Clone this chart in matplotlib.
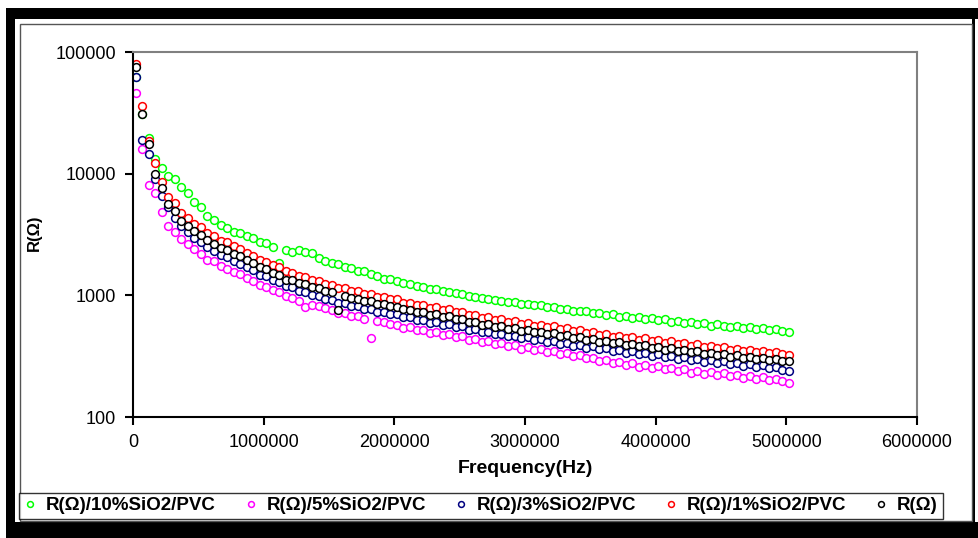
import numpy as np
import matplotlib
matplotlib.use('Agg')
import matplotlib.pyplot as plt
from matplotlib import ticker
from matplotlib.patches import Rectangle

plt.rcParams['font.family'] = ['Liberation Sans', 'DejaVu Sans']

# frequency sweep (kHz), 50 kHz step
freq_khz = list(range(20, 5021, 50))

r_10pct = [62000, 31000, 19500, 13200, 11200, 9600, 9100, 7700, 6900, 5900,
           5300, 4450, 4150, 3750, 3550, 3300, 3280, 3050, 2980, 2760,
           2680, 2480, 1850, 2380, 2270, 2360, 2280, 2230, 2020, 1920,
           1830, 1800, 1700, 1670, 1580, 1570, 1490, 1430, 1370, 1350,
           1310, 1260, 1240, 1190, 1180, 1120, 1125, 1080, 1075, 1040,
           1035, 995, 978, 950, 940, 915, 905, 880, 885, 855,
           850, 825, 828, 800, 795, 770, 778, 750, 742, 738,
           712, 720, 690, 700, 668, 682, 655, 662, 640, 650,
           622, 635, 605, 615, 590, 602, 578, 588, 565, 578,
           560, 552, 558, 540, 548, 530, 535, 520, 525, 505, 496]

r_5pct = [46000, 16000, 8000, 7000, 4800, 3700, 3300, 2900, 2650, 2400,
          2200, 1950, 1900, 1750, 1650, 1550, 1500, 1400, 1320, 1220,
          1180, 1100, 1060, 980, 950, 900, 800, 840, 810, 780,
          760, 720, 710, 680, 670, 640, 450, 610, 600, 580,
          575, 540, 546, 515, 521, 493, 500, 473, 480, 455,
          462, 432, 438, 413, 419, 395, 404, 381, 388, 365,
          374, 353, 361, 340, 348, 328, 336, 317, 324, 305,
          306, 288, 294, 277, 284, 268, 276, 260, 268, 253,
          261, 246, 253, 239, 246, 232, 240, 226, 233, 220,
          229, 216, 223, 211, 218, 206, 213, 201, 207, 196, 190]

r_3pct = [62000, 19000, 14500, 9000, 6500, 5300, 4300, 3700, 3300, 2950,
          2750, 2500, 2300, 2150, 2050, 1900, 1820, 1700, 1600, 1480,
          1430, 1340, 1290, 1200, 1160, 1090, 1070, 1010, 985, 940,
          915, 870, 860, 820, 810, 775, 765, 735, 728, 702,
          698, 658, 662, 626, 632, 598, 604, 575, 582, 552,
          557, 522, 527, 497, 503, 479, 484, 459, 466, 444,
          452, 429, 436, 413, 421, 399, 407, 385, 393, 371,
          380, 359, 367, 347, 356, 337, 346, 328, 337, 318,
          327, 310, 318, 301, 310, 293, 302, 285, 294, 278,
          287, 271, 280, 264, 273, 257, 266, 251, 259, 244, 238]

r_1pct = [80000, 36000, 18500, 12300, 8600, 6400, 5700, 4750, 4350, 3850,
          3650, 3250, 3080, 2820, 2720, 2520, 2420, 2230, 2120, 1940,
          1890, 1770, 1710, 1590, 1530, 1440, 1410, 1340, 1310, 1240,
          1210, 1150, 1140, 1090, 1080, 1030, 1020, 970, 965, 930,
          925, 870, 872, 828, 832, 790, 798, 758, 768, 728,
          735, 690, 695, 655, 662, 628, 638, 605, 615, 585,
          595, 565, 575, 545, 555, 525, 535, 507, 515, 488,
          498, 472, 480, 458, 466, 445, 452, 433, 442, 420,
          428, 408, 418, 398, 405, 386, 395, 376, 385, 367,
          375, 357, 365, 350, 357, 342, 350, 335, 342, 330, 325]

r_pvc = [76000, 31000, 17500, 10000, 7600, 5600, 4900, 4100, 3700, 3350,
         3150, 2850, 2650, 2450, 2350, 2180, 2100, 1950, 1850, 1700,
         1650, 1540, 1480, 1330, 1330, 1260, 1230, 1170, 1140, 1090,
         1060, 760, 995, 955, 940, 905, 890, 850, 845, 815,
         805, 765, 760, 725, 728, 695, 698, 665, 672, 640,
         642, 605, 608, 575, 582, 552, 558, 530, 538, 512,
         522, 495, 502, 478, 486, 462, 468, 445, 452, 430,
         438, 415, 422, 402, 410, 390, 397, 380, 388, 368,
         376, 358, 366, 349, 356, 339, 347, 331, 338, 322,
         330, 314, 321, 308, 314, 301, 307, 295, 301, 291, 287]

labels = ['R(Ω)/10%SiO2/PVC', 'R(Ω)/5%SiO2/PVC', 'R(Ω)/3%SiO2/PVC',
          'R(Ω)/1%SiO2/PVC', 'R(Ω)']
colors = ['#00ff00', '#ff00ff', '#000080', '#ff0000', '#000000']
series = [r_10pct, r_5pct, r_3pct, r_1pct, r_pvc]

W, H = 979, 538
fig = plt.figure(figsize=(W / 100, H / 100), dpi=100)


def px_rect(x0, y0, x1, y1, **kw):
    # rectangle in pixel coords (origin top-left)
    fig.patches.append(Rectangle((x0 / W, 1 - y1 / H), (x1 - x0) / W, (y1 - y0) / H,
                                 transform=fig.transFigure, **kw))


# outer black frame and inner gray frame
px_rect(6, 8, 979, 19, facecolor='black', edgecolor='none')
px_rect(6, 8, 15, 538, facecolor='black', edgecolor='none')
px_rect(6, 522, 979, 538, facecolor='black', edgecolor='none')
px_rect(972, 8, 975, 538, facecolor='black', edgecolor='none')
px_rect(20, 24, 972, 521, facecolor='none', edgecolor='#555555', linewidth=1)

ax = fig.add_axes([133 / W, 1 - 417 / H, (917 - 133) / W, (417 - 52) / H])

f_hz = np.array(freq_khz) * 1000.0
for vals, c, lab in zip(series, colors, labels):
    ax.plot(f_hz, vals, linestyle='none', marker='o', markersize=5.6,
            markerfacecolor='white', markeredgecolor=c, markeredgewidth=1.1,
            label=lab)

ax.set_yscale('log')
ax.set_ylim(100, 100000)
ax.set_xlim(0, 6000000)
ax.set_xticks(np.arange(0, 6000001, 1000000))
ax.set_yticks([100, 1000, 10000, 100000])
ax.yaxis.set_minor_locator(ticker.NullLocator())
fmt = ticker.FuncFormatter(lambda v, p: '%d' % int(round(v)))
ax.xaxis.set_major_formatter(fmt)
ax.yaxis.set_major_formatter(fmt)
ax.tick_params(direction='out', length=6, width=1.5, labelsize=13, pad=6)

for s in ['left', 'bottom']:
    ax.spines[s].set_linewidth(1.5)
    ax.spines[s].set_color('black')
for s in ['top', 'right']:
    ax.spines[s].set_linewidth(1.5)
    ax.spines[s].set_color('#808080')

ax.set_xlabel('Frequency(Hz)', fontsize=14, fontweight='bold', labelpad=7)
fig.text(34 / W, 1 - 233 / H, 'R(Ω)', rotation=90, fontsize=12, fontweight='bold',
         ha='center', va='center')

leg = fig.legend(loc='lower left', bbox_to_anchor=(19 / W, 1 - 519 / H), ncol=5,
                 borderaxespad=0, frameon=True, fancybox=False, edgecolor='black',
                 handlelength=0.7, handletextpad=0.5, columnspacing=1.5,
                 borderpad=0.25, markerscale=0.75, prop={'weight': 'bold', 'size': 13.5})
leg.get_frame().set_linewidth(1.0)

fig.savefig('out.png', dpi=100)
